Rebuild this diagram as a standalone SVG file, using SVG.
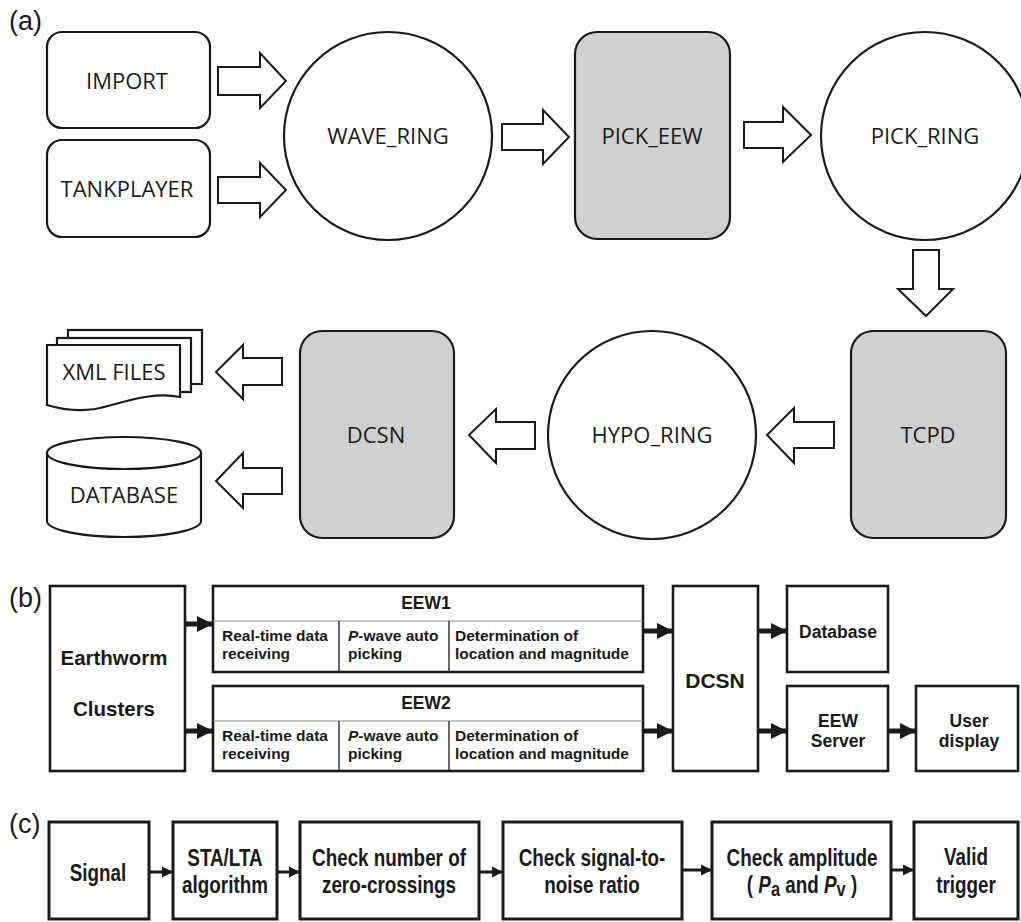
<svg xmlns="http://www.w3.org/2000/svg" width="1021" height="922" viewBox="0 0 1021 922">
<defs>
<style>
.bg{fill:#ffffff}
.a-box{fill:#ffffff;stroke:#1a1a1a;stroke-width:2.2}
.a-grey{fill:#d0d0d0;stroke:#1a1a1a;stroke-width:2.2}
.a-txt{font-family:"Open Sans","Noto Sans",sans-serif;font-size:22px;fill:#1a1a1a;text-anchor:middle}
.blk{fill:#ffffff;stroke:#1a1a1a;stroke-width:2}
.lbl{font-family:"Liberation Sans",Arial,sans-serif;font-size:27px;fill:#1a1a1a}
.b-box{fill:#ffffff;stroke:#1a1a1a;stroke-width:2.6}
.b-txt{font-family:"Liberation Sans",Arial,sans-serif;font-weight:bold;fill:#1a1a1a}
.b-mid{text-anchor:middle}
.cell{font-size:15.5px}
.b-line{stroke:#1a1a1a;stroke-width:5;fill:none}
.c-box{fill:#ffffff;stroke:#1a1a1a;stroke-width:3}
.c-txt{font-family:"Liberation Sans",Arial,sans-serif;font-weight:bold;font-size:23px;fill:#1a1a1a;text-anchor:middle}
.c-line{stroke:#1a1a1a;stroke-width:3;fill:none}
</style>
<marker id="hb" markerUnits="userSpaceOnUse" markerWidth="16" markerHeight="18" refX="16" refY="9" orient="auto">
<path d="M0,1 L16,9 L0,17 Z" fill="#1a1a1a"/>
</marker>
<marker id="hc" markerUnits="userSpaceOnUse" markerWidth="11" markerHeight="12" refX="11" refY="6" orient="auto">
<path d="M0,0.5 L11,6 L0,11.5 Z" fill="#1a1a1a"/>
</marker>
</defs>
<rect class="bg" x="0" y="0" width="1021" height="922"/>

<!-- panel labels -->
<text class="lbl" x="9" y="30">(a)</text>
<text class="lbl" x="9" y="607">(b)</text>
<text class="lbl" x="9" y="833">(c)</text>

<!-- ===== Part (a) nodes ===== -->
<g id="import">
<rect class="a-box" x="47" y="32" width="163" height="96" rx="15"/>
<text class="a-txt" x="127" y="89">IMPORT</text>
</g>
<g id="tankplayer">
<rect class="a-box" x="47" y="140" width="163" height="97" rx="15"/>
<text class="a-txt" x="127" y="197">TANKPLAYER</text>
</g>
<g id="wave_ring">
<circle class="a-box" cx="388" cy="136" r="104"/>
<text class="a-txt" x="388" y="144">WAVE_RING</text>
</g>
<g id="pick_eew">
<rect class="a-grey" x="575" y="32" width="155" height="207" rx="22"/>
<text class="a-txt" x="652" y="144">PICK_EEW</text>
</g>
<g id="pick_ring">
<circle class="a-box" cx="925" cy="136" r="104"/>
<text class="a-txt" x="925" y="144">PICK_RING</text>
</g>
<g id="tcpd">
<rect class="a-grey" x="851" y="331" width="155" height="207" rx="22"/>
<text class="a-txt" x="928" y="443">TCPD</text>
</g>
<g id="hypo_ring">
<circle class="a-box" cx="652" cy="435" r="104"/>
<text class="a-txt" x="652" y="443">HYPO_RING</text>
</g>
<g id="dcsn_a">
<rect class="a-grey" x="300" y="331" width="154" height="207" rx="22"/>
<text class="a-txt" x="376" y="443">DCSN</text>
</g>
<g id="xml_files">
<rect class="a-box" x="68" y="330" width="134" height="54"/>
<rect class="a-box" x="57" y="338" width="134" height="54"/>
<path class="a-box" d="M47,345 H180 V397 C150,391 120,404 95,409 C75,412 60,409 47,405 Z"/>
<text class="a-txt" x="114" y="380">XML FILES</text>
</g>
<g id="database_a">
<path class="a-box" d="M47,453 V521 A77,16 0 0 0 201,521 V453"/>
<ellipse class="a-box" cx="124" cy="453" rx="77" ry="16"/>
<text class="a-txt" x="124" y="503">DATABASE</text>
</g>

<!-- ===== Part (b) nodes ===== -->
<g id="earthworm">
<rect class="b-box" x="50" y="586" width="135" height="185"/>
<text class="b-txt b-mid" x="114" y="665" font-size="20.5">Earthworm</text>
<text class="b-txt b-mid" x="114" y="716" font-size="20.5">Clusters</text>
</g>
<g id="eew1">
<rect class="b-box" x="213" y="586" width="430" height="86"/>
<line x1="213" y1="621" x2="643" y2="621" stroke="#8a8a8a" stroke-width="1.2"/>
<line x1="339" y1="621" x2="339" y2="672" stroke="#1a1a1a" stroke-width="1.3"/>
<line x1="449" y1="621" x2="449" y2="672" stroke="#1a1a1a" stroke-width="1.3"/>
<text class="b-txt b-mid" x="426" y="609" font-size="17.5">EEW1</text>
<text class="b-txt cell" x="222" y="641">Real-time data</text>
<text class="b-txt cell" x="222" y="659">receiving</text>
<text class="b-txt cell" x="348" y="641"><tspan font-style="italic">P</tspan>-wave auto</text>
<text class="b-txt cell" x="348" y="659">picking</text>
<text class="b-txt cell" x="455" y="641">Determination of</text>
<text class="b-txt cell" x="455" y="659">location and magnitude</text>
</g>
<g id="eew2">
<rect class="b-box" x="213" y="686" width="430" height="85"/>
<line x1="213" y1="721" x2="643" y2="721" stroke="#8a8a8a" stroke-width="1.2"/>
<line x1="339" y1="721" x2="339" y2="771" stroke="#1a1a1a" stroke-width="1.3"/>
<line x1="449" y1="721" x2="449" y2="771" stroke="#1a1a1a" stroke-width="1.3"/>
<text class="b-txt b-mid" x="426" y="709" font-size="17.5">EEW2</text>
<text class="b-txt cell" x="222" y="741">Real-time data</text>
<text class="b-txt cell" x="222" y="759">receiving</text>
<text class="b-txt cell" x="348" y="741"><tspan font-style="italic">P</tspan>-wave auto</text>
<text class="b-txt cell" x="348" y="759">picking</text>
<text class="b-txt cell" x="455" y="741">Determination of</text>
<text class="b-txt cell" x="455" y="759">location and magnitude</text>
</g>
<g id="dcsn_b">
<rect class="b-box" x="673" y="586" width="85" height="185"/>
<text class="b-txt b-mid" x="715" y="688" font-size="21">DCSN</text>
</g>
<g id="database_b">
<rect class="b-box" x="787" y="586" width="101" height="86"/>
<text class="b-txt b-mid" x="838" y="638" font-size="17.5">Database</text>
</g>
<g id="eew_server">
<rect class="b-box" x="787" y="686" width="101" height="85"/>
<text class="b-txt b-mid" x="838" y="727" font-size="17.5">EEW</text>
<text class="b-txt b-mid" x="838" y="747" font-size="17.5">Server</text>
</g>
<g id="user_display">
<rect class="b-box" x="916" y="686" width="102" height="85"/>
<text class="b-txt b-mid" x="969" y="727" font-size="17.5">User</text>
<text class="b-txt b-mid" x="969" y="747" font-size="17.5">display</text>
</g>

<!-- ===== Part (c) nodes ===== -->
<g id="signal">
<rect class="c-box" x="49" y="822" width="100" height="97"/>
<text class="c-txt" transform="translate(98,881) scale(0.82,1)" x="0" y="0">Signal</text>
</g>
<g id="sta_lta">
<rect class="c-box" x="173" y="822" width="104" height="97"/>
<text class="c-txt" transform="translate(225,866) scale(0.82,1)" x="0" y="0">STA/LTA</text>
<text class="c-txt" transform="translate(225,893) scale(0.82,1)" x="0" y="0">algorithm</text>
</g>
<g id="zero_cross">
<rect class="c-box" x="300" y="822" width="179" height="97"/>
<text class="c-txt" transform="translate(389,866) scale(0.82,1)" x="0" y="0">Check number of</text>
<text class="c-txt" transform="translate(389,893) scale(0.82,1)" x="0" y="0">zero-crossings</text>
</g>
<g id="snr">
<rect class="c-box" x="503" y="822" width="179" height="97"/>
<text class="c-txt" transform="translate(592,866) scale(0.82,1)" x="0" y="0">Check signal-to-</text>
<text class="c-txt" transform="translate(592,893) scale(0.82,1)" x="0" y="0">noise ratio</text>
</g>
<g id="amplitude">
<rect class="c-box" x="712" y="822" width="179" height="97"/>
<text class="c-txt" transform="translate(802,866) scale(0.82,1)" x="0" y="0">Check amplitude</text>
<text class="c-txt" transform="translate(802,893) scale(0.82,1)" x="0" y="0">( <tspan font-style="italic">P</tspan><tspan font-size="20" dy="3">a</tspan><tspan dy="-3"> and </tspan><tspan font-style="italic">P</tspan><tspan font-size="20" dy="3">v</tspan><tspan dy="-3"> )</tspan></text>
</g>
<g id="valid">
<rect class="c-box" x="914" y="822" width="104" height="97"/>
<text class="c-txt" transform="translate(966,865) scale(0.82,1)" x="0" y="0">Valid</text>
<text class="c-txt" transform="translate(966,893) scale(0.82,1)" x="0" y="0">trigger</text>
</g>

<!-- ===== Connectors ===== -->
<g id="connectors">
<!-- part (a) block arrows -->
<polygon class="blk" points="218,67 260,67 260,53 286,81 260,108 260,95 218,95"/>
<polygon class="blk" points="218,177 260,177 260,163 286,190 260,217 260,203 218,203"/>
<polygon class="blk" points="502,124 543,124 543,110 569,137 543,164 543,150 502,150"/>
<polygon class="blk" points="744,122 783,122 783,107 811,135 783,162 783,148 744,148"/>
<polygon class="blk" points="913,250 939,250 939,289 953,289 926,316 898,289 913,289"/>
<polygon class="blk" points="834,422 794,422 794,408 767,435 794,463 794,448 834,448"/>
<polygon class="blk" points="535,422 496,422 496,409 469,435 496,463 496,449 535,449"/>
<polygon class="blk" points="282,358 243,358 243,345 216,372 243,399 243,385 282,385"/>
<polygon class="blk" points="282,468 243,468 243,453 216,481 243,508 243,494 282,494"/>
<!-- part (b) arrows -->
<line class="b-line" x1="185" y1="624" x2="213" y2="624" marker-end="url(#hb)"/>
<line class="b-line" x1="185" y1="731" x2="213" y2="731" marker-end="url(#hb)"/>
<line class="b-line" x1="643" y1="631" x2="673" y2="631" marker-end="url(#hb)"/>
<line class="b-line" x1="643" y1="731" x2="673" y2="731" marker-end="url(#hb)"/>
<line class="b-line" x1="758" y1="631" x2="787" y2="631" marker-end="url(#hb)"/>
<line class="b-line" x1="758" y1="731" x2="787" y2="731" marker-end="url(#hb)"/>
<line class="b-line" x1="888" y1="731" x2="916" y2="731" marker-end="url(#hb)"/>
<!-- part (c) arrows -->
<line class="c-line" x1="149" y1="872" x2="173" y2="872" marker-end="url(#hc)"/>
<line class="c-line" x1="277" y1="872" x2="300" y2="872" marker-end="url(#hc)"/>
<line class="c-line" x1="479" y1="872" x2="503" y2="872" marker-end="url(#hc)"/>
<line class="c-line" x1="682" y1="870" x2="712" y2="870" marker-end="url(#hc)"/>
<line class="c-line" x1="891" y1="870" x2="914" y2="870" marker-end="url(#hc)"/>
</g>
</svg>
